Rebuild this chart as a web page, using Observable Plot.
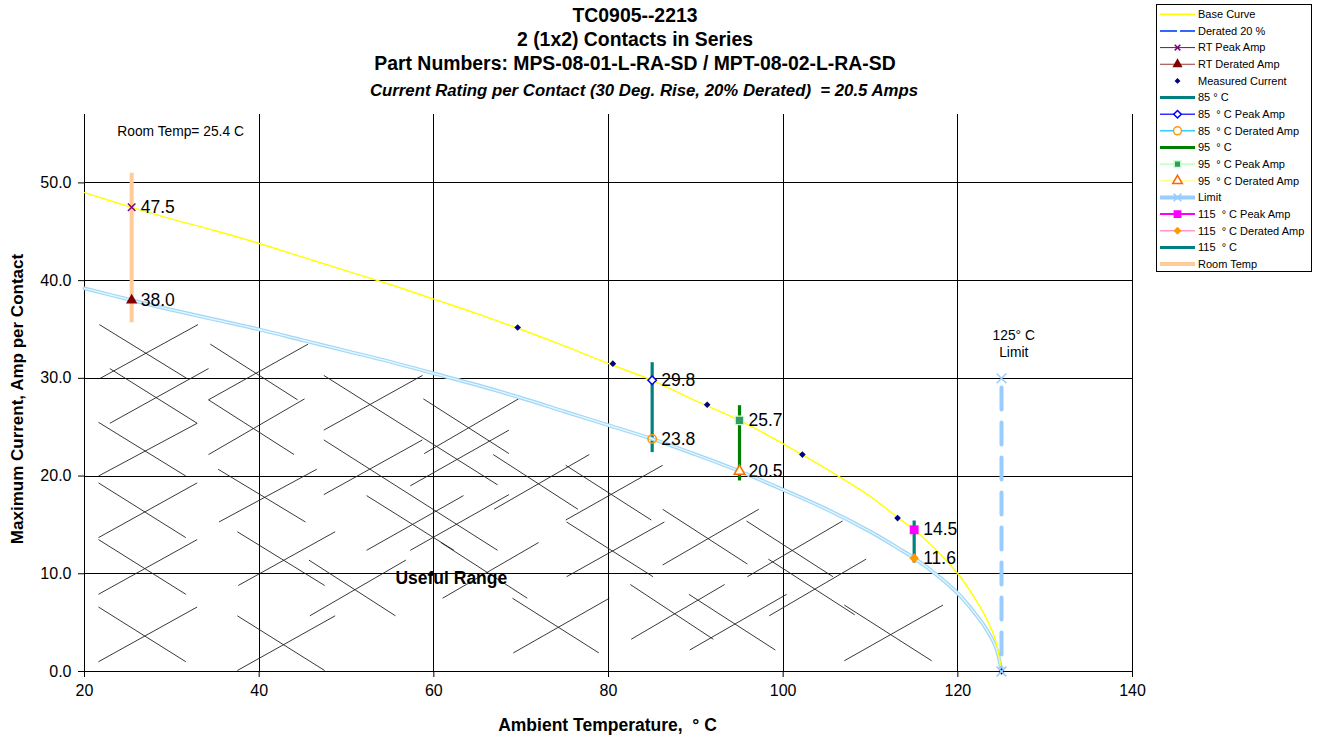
<!DOCTYPE html>
<html><head><meta charset="utf-8">
<script src="https://cdn.jsdelivr.net/npm/d3@7"></script>
<script src="https://cdn.jsdelivr.net/npm/@observablehq/plot@0.6"></script>
<style>
body{margin:0;background:#fff;font-family:Arial,"Liberation Sans",sans-serif;}
#wrap{position:relative;width:1319px;height:740px;overflow:hidden;background:#fff;}
#wrap svg.plot{position:absolute;left:0;top:0;}
.t{position:absolute;left:0;text-align:center;font-weight:bold;color:#000;white-space:nowrap;}
#legend{position:absolute;left:1156px;top:4px;}
</style></head><body><div id="wrap"></div>
<script>
// ---- data ----
const xTicks = [20, 40, 60, 80, 100, 120, 140];
const yTicks = [0, 10, 20, 30, 40, 50];

const baseT      = [20, 25.4, 30, 35, 40, 45, 50, 55, 60, 65, 70, 75, 80, 85, 90, 95, 100, 105, 110, 113.2, 115, 118, 120, 121, 122, 123, 124, 124.5, 125];
const baseAmp    = [49.0, 47.5, 46.3, 45.1, 43.8, 42.4, 41.0, 39.6, 38.1, 36.6, 35.0, 33.3, 31.5, 29.8, 27.7, 25.7, 23.3, 20.7, 17.9, 15.7, 14.5, 12.0, 10.0, 8.8, 7.4, 5.9, 4.0, 2.6, 0];
const deratedAmp = [39.2, 38.0, 37.0, 36.0, 35.0, 33.9, 32.8, 31.7, 30.5, 29.3, 28.0, 26.6, 25.2, 23.8, 22.2, 20.5, 18.6, 16.6, 14.3, 12.6, 11.6, 9.6, 8.0, 7.0, 5.9, 4.7, 3.2, 2.1, 0];

const measuredT   = [69.6, 80.5, 91.3, 102.2, 113.1, 125];
const measuredAmp = [35.2, 31.5, 27.3, 22.2, 15.7, 0];

const pointNames = ["RT Peak Amp", "RT Derated Amp", "85 ° C Peak Amp", "85 ° C Derated Amp", "95 ° C Peak Amp", "95 ° C Derated Amp", "115 ° C Peak Amp", "115 ° C Derated Amp"];
const pointT     = [25.4, 25.4, 85, 85, 95, 95, 115, 115];
const pointAmp   = [47.5, 38.0, 29.8, 23.8, 25.7, 20.5, 14.5, 11.6];
const pointLabel = ["47.5", "38.0", "29.8", "23.8", "25.7", "20.5", "14.5", "11.6"];

const barNames = ["Room Temp", "85 ° C", "95 ° C", "115 ° C"];
const barT     = [25.4, 85, 95, 115];
const barLow   = [35.7, 22.4, 19.5, 11.1];
const barHigh  = [51.0, 31.6, 27.2, 15.4];

const limitT   = [125, 125];
const limitAmp = [0, 30];

const noteText = ["Room Temp= 25.4 C", "125° C\nLimit"];
const noteT    = [31.0, 126.4];
const noteAmp  = [55.4, 33.6];

const hatchX1 = [21.7,21.8,22.9,22.9,21.6,21.6,21.6,21.6,21.6,21.6,21.6,21.6,34.4,34.2,34.2,34.2,35.3,35.4,37.5,37.6,37.5,37.5,47.4,47.4,47.4,47.4,52.3,52.3,57.3,58.8,58.9,45.7,45.8,57.3,60.8,61.0,66.8,66.9,75.1,75.1,75.2,75.2,69.0,69.1,86.2,86.2,95.8,95.9,89.2,89.3,82.5,82.6,98.3,98.4,107.0,107.0];
const hatchY1 = [35.5,30.0,31.0,25.4,25.5,20.0,19.3,13.7,13.5,7.9,6.6,1.0,33.5,27.8,27.8,22.2,20.7,15.3,14.3,8.8,5.7,0.1,30.3,24.7,23.7,18.1,18.0,12.4,19.0,27.9,22.3,11.4,5.7,12.4,13.2,7.5,22.2,16.6,21.1,15.5,15.3,9.7,7.5,1.9,16.6,10.9,15.4,9.7,7.9,2.2,8.9,3.3,11.5,5.7,6.8,1.1];
const hatchX2 = [31.7,33.0,32.9,34.2,31.6,32.9,31.6,32.9,31.6,32.9,31.6,32.9,44.4,45.6,44.0,45.2,45.3,46.6,47.5,48.7,47.5,48.7,67.3,58.7,67.3,58.7,62.3,63.4,68.6,68.6,69.7,55.6,56.8,68.6,70.7,72.0,76.5,77.8,84.9,86.2,85.1,86.4,78.9,80.1,95.9,97.2,105.7,106.8,99.1,100.4,92.0,93.3,108.2,109.5,117.0,118.3];
const hatchY2 = [30.0,35.5,25.4,31.0,20.0,25.4,13.7,19.3,7.9,13.5,1.0,6.6,27.8,33.5,22.2,27.9,15.3,20.7,8.8,14.3,0.1,5.7,19.1,30.3,12.4,23.7,12.4,18.0,24.7,22.3,27.9,5.7,11.4,18.1,7.5,13.2,16.6,22.2,15.5,21.1,9.7,15.3,1.9,7.5,11.0,16.6,9.7,15.4,2.2,7.9,3.3,8.9,5.8,11.5,1.1,6.8];

// ---- tables built from arrays ----
const base = baseT.map((t, i) => ({t, a: baseAmp[i]}));
const derated = baseT.map((t, i) => ({t, a: deratedAmp[i]}));
const measured = measuredT.map((t, i) => ({t, a: measuredAmp[i]}));
const pts = pointNames.map((n, i) => ({n, t: pointT[i], a: pointAmp[i], label: pointLabel[i]}));
const bars = barNames.map((n, i) => ({n, t: barT[i], lo: barLow[i], hi: barHigh[i]}));
const limit = limitT.map((t, i) => ({t, a: limitAmp[i]}));
const notes = noteText.map((s, i) => ({s, t: noteT[i], a: noteAmp[i]}));
const hatch = hatchX1.map((x, i) => ({x1: x, y1: hatchY1[i], x2: hatchX2[i], y2: hatchY2[i]}));

// styles (kept apart from data)
const barColor = {"Room Temp": "#ffcc99", "85 ° C": "#008080", "95 ° C": "#008000", "115 ° C": "#008080"};
const barWidth = {"Room Temp": 4, "85 ° C": 3.2, "95 ° C": 3.2, "115 ° C": 3.2};
const ptStyle = {
  "RT Peak Amp":        {symbol: "times", r: 3.5, fill: "none", stroke: "#800080", sw: 1.5},
  "RT Derated Amp":     {symbol: "triangle", r: 4.2, fill: "#800000", stroke: "none", sw: 0},
  "85 ° C Peak Amp":    {symbol: "diamond2", r: 3.8, fill: "#ffffff", stroke: "#0000ff", sw: 1.5},
  "85 ° C Derated Amp": {symbol: "circle", r: 4.2, fill: "none", stroke: "#ff9900", sw: 1.5},
  "95 ° C Peak Amp":    {symbol: "square", r: 4.8, fill: "#339966", stroke: "#ccffcc", sw: 1.2},
  "95 ° C Derated Amp": {symbol: "triangle", r: 3.9, fill: "#ffffcc", stroke: "#ff6600", sw: 1.5},
  "115 ° C Peak Amp":   {symbol: "square", r: 5, fill: "#ff00ff", stroke: "none", sw: 0},
  "115 ° C Derated Amp":{symbol: "diamond2", r: 4.3, fill: "#ff9900", stroke: "none", sw: 0}
};

const FONT = "Arial, 'Liberation Sans', sans-serif";
const marks = [
  Plot.ruleX(xTicks, {y1: 0, y2: 57, stroke: "#000", strokeWidth: 1, shapeRendering: "crispEdges"}),
  Plot.ruleY(yTicks, {x1: 20, x2: 140, stroke: "#000", strokeWidth: 1, shapeRendering: "crispEdges"}),
  Plot.link(hatch, {x1: "x1", y1: "y1", x2: "x2", y2: "y2", stroke: "#222", strokeWidth: 0.9}),
  Plot.ruleX(bars, {x: "t", y1: "lo", y2: "hi", stroke: d => barColor[d.n], strokeWidth: d => barWidth[d.n]}),
  Plot.line(derated, {x: "t", y: "a", stroke: "#a2d6f6", strokeWidth: 3.8, curve: "catmull-rom"}),
  Plot.line(derated, {x: "t", y: "a", stroke: "#e0f7ff", strokeWidth: 1.4, curve: "catmull-rom"}),
  Plot.line(base, {x: "t", y: "a", stroke: "#ffff00", strokeWidth: 1.4, curve: "catmull-rom"}),
  Plot.line(limit, {x: "t", y: "a", stroke: "#99ccff", strokeWidth: 4, strokeDasharray: "22,13", strokeDashoffset: -17}),
  Plot.dot(measured, {x: "t", y: "a", symbol: "diamond2", r: 3, fill: "#000080"}),
  Plot.dot(limit, {x: "t", y: "a", symbol: "times", r: 4.5, stroke: "#99ccff", strokeWidth: 1.5, fill: "none"})
];
for (const p of pts) {
  const s = ptStyle[p.n];
  marks.push(Plot.dot([p], {x: "t", y: "a", symbol: s.symbol, r: s.r, fill: s.fill, stroke: s.stroke, strokeWidth: s.sw}));
}
marks.push(
  Plot.text(pts, {x: "t", y: "a", text: "label", dx: 9, textAnchor: "start", fontSize: 17.5, fill: "#000"}),
  Plot.text(notes, {x: "t", y: "a", text: "s", fontSize: 13.8, fill: "#000", lineHeight: 1.25}),
  Plot.text(["Useful Range"], {x: 62, y: 9.5, text: d => d, fontSize: 17.5, fontWeight: "bold", fill: "#000"}),
  Plot.axisX({ticks: xTicks, tickSize: 6, tickPadding: 7, fontSize: 16, label: null, tickFormat: d => String(d)}),
  Plot.axisY({ticks: yTicks, tickSize: 6, tickPadding: 7, fontSize: 16, label: null, tickFormat: d => d.toFixed(1)})
);

const chart = Plot.plot({
  width: 1319, height: 740,
  marginLeft: 84, marginRight: 187, marginTop: 114, marginBottom: 69,
  x: {domain: [20, 140]},
  y: {domain: [0, 57]},
  style: {fontFamily: FONT, fontSize: "16px", background: "transparent", color: "#000", overflow: "visible"},
  marks
});
chart.classList.add("plot");
const wrap = document.getElementById("wrap");
wrap.appendChild(chart);

// titles & axis labels
function addText(html, css) {
  const d = document.createElement("div");
  d.className = "t"; d.innerHTML = html; d.style.cssText += css;
  wrap.appendChild(d);
}
addText("TC0905--2213", "top:4px;width:1270px;font-size:19.4px;");
addText("2 (1x2) Contacts in Series", "top:28px;width:1270px;font-size:19.4px;");
addText("Part Numbers: MPS-08-01-L-RA-SD / MPT-08-02-L-RA-SD", "top:52px;width:1270px;font-size:19.4px;");
addText("Current Rating per Contact (30 Deg. Rise, 20% Derated)&nbsp; = 20.5 Amps", "top:81px;width:1288px;font-size:16.8px;font-style:italic;");
addText("Ambient Temperature,&nbsp; ° C", "top:715px;width:1215px;font-size:17.5px;");
addText("Maximum Current, Amp per Contact", "top:389px;left:-182px;width:400px;font-size:17px;transform:rotate(-90deg);");

// legend
const legendItems = ["Base Curve", "Derated 20 %", "RT Peak Amp", "RT Derated Amp", "Measured Current", "85 ° C",
  "85  ° C Peak Amp", "85  ° C Derated Amp", "95  ° C", "95  ° C Peak Amp", "95  ° C Derated Amp", "Limit",
  "115  ° C Peak Amp", "115  ° C Derated Amp", "115  ° C", "Room Temp"];
const legendStyle = [
  {line: "#ffff00", w: 1.5},
  {line: "#3366ff", w: 2, dash: "17,3"},
  {line: "#800080", w: 1, sym: d3.symbolTimes, size: 22, mfill: "none", mstroke: "#800080"},
  {line: "#993333", w: 1, sym: d3.symbolTriangle, size: 45, mfill: "#800000"},
  {sym: d3.symbolDiamond2, size: 22, mfill: "#000080"},
  {line: "#008080", w: 3},
  {line: "#3333ff", w: 1.5, sym: d3.symbolDiamond2, size: 36, mfill: "#fff", mstroke: "#0000ff"},
  {line: "#33ccff", w: 1.5, sym: d3.symbolCircle, size: 50, mfill: "#fff", mstroke: "#ff9900"},
  {line: "#008000", w: 3},
  {line: "#ccffcc", w: 2, sym: d3.symbolSquare, size: 45, mfill: "#339966", mstroke: "#ccffcc"},
  {line: "#ffff99", w: 1.5, sym: d3.symbolTriangle, size: 40, mfill: "#fff", mstroke: "#ff6600"},
  {line: "#99ccff", w: 4, sym: d3.symbolTimes, size: 40, mfill: "none", mstroke: "#99ccff"},
  {line: "#ff00ff", w: 2, sym: d3.symbolSquare, size: 60, mfill: "#ff00ff"},
  {line: "#ff99cc", w: 1.5, sym: d3.symbolDiamond2, size: 40, mfill: "#ff9900"},
  {line: "#008080", w: 3},
  {line: "#ffcc99", w: 4}
];
const lg = d3.select(wrap).append("svg").attr("id", "legend").attr("width", 157).attr("height", 269);
lg.append("rect").attr("x", 0.5).attr("y", 0.5).attr("width", 155).attr("height", 267).attr("fill", "#fff").attr("stroke", "#000");
legendItems.forEach((name, i) => {
  const s = legendStyle[i];
  const y = 10.3 + i * 16.65;
  const g = lg.append("g");
  if (s.line) g.append("line").attr("x1", 4).attr("x2", 39).attr("y1", y).attr("y2", y)
    .attr("stroke", s.line).attr("stroke-width", s.w).attr("stroke-dasharray", s.dash || null);
  if (s.sym) g.append("path").attr("d", d3.symbol(s.sym, s.size)()).attr("transform", `translate(21.5,${y})`)
    .attr("fill", s.mfill).attr("stroke", s.mstroke || "none").attr("stroke-width", 1.5);
  g.append("text").attr("x", 42).attr("y", y).attr("dy", "0.35em").attr("font-size", 11)
    .attr("font-family", FONT).attr("fill", "#000").attr("xml:space", "preserve").style("white-space", "pre").text(name);
});
</script></body></html>
